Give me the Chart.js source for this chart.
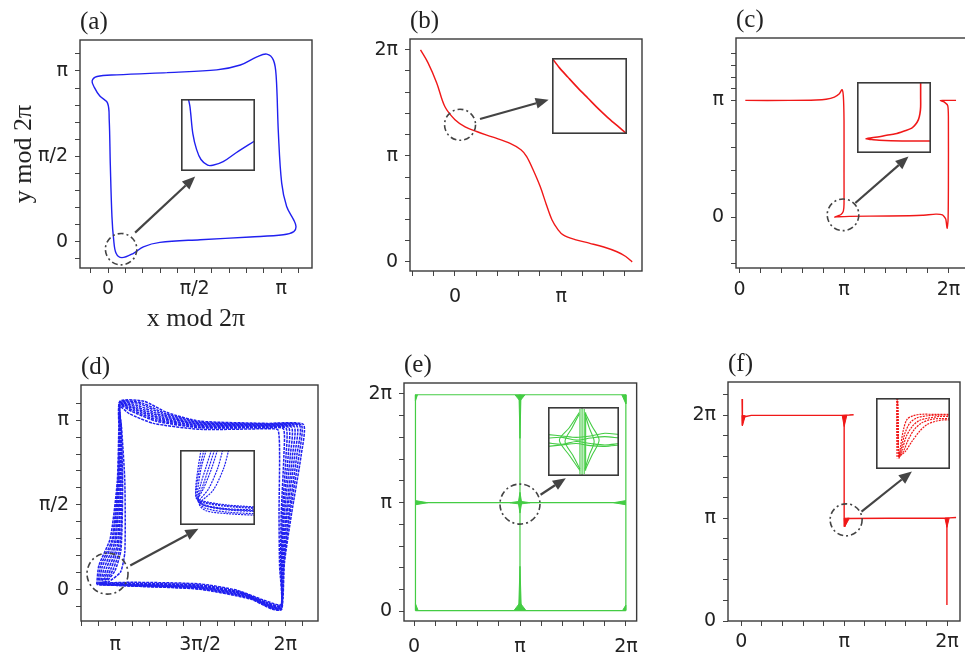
<!DOCTYPE html>
<html>
<head>
<meta charset="utf-8">
<script src="https://cdn.jsdelivr.net/npm/chart.js@4.4.0/dist/chart.umd.min.js"></script>
<style>
html, body { margin: 0; padding: 0; background: #fff; overflow: hidden; width: 965px; height: 656px; }
#fig { position: relative; width: 965px; height: 656px; overflow: hidden; }
canvas { position: absolute; }
</style>
</head>
<body>
<div id="fig"></div>
<script>
var PI = Math.PI;

// ---- (a) single closed orbit ----
var aX = [1.07,1.97,2.40,2.70,2.88,3.00,3.05,3.09,3.15,3.24,3.37,3.41,3.37,3.18,2.58,1.67,0.94,0.64,0.46,0.25,0.145,0.10,0.07,0.04,0.02,-0.01,-0.15,-0.25,-0.29,-0.20,0.16,1.07];
var aY = [3.11,3.16,3.25,3.40,3.45,3.34,3.04,2.00,1.08,0.65,0.40,0.28,0.19,0.13,0.09,0.04,-0.01,-0.09,-0.21,-0.29,-0.21,0.05,0.46,1.42,2.25,2.55,2.68,2.84,2.96,3.04,3.07,3.11];
var aInsX = [0.10,0.12,0.13,0.16,0.21,0.27,0.36,0.43,0.57,0.74,1.0];
var aInsY = [1.0,0.90,0.81,0.52,0.30,0.16,0.08,0.08,0.13,0.25,0.42];

// ---- (b) ----
var bX = [-1.02,-0.80,-0.54,-0.30,0.0,0.30,0.64,1.10,1.63,1.95,2.12,2.30,2.52,2.70,2.87,3.05,3.21,3.55,3.99,4.40,4.79,5.05,5.24];
var bY = [6.28,5.90,5.30,4.60,4.21,4.00,3.86,3.70,3.51,3.32,3.12,2.75,2.23,1.70,1.24,0.95,0.79,0.66,0.55,0.44,0.30,0.16,0.0];
var bInsX = [0,0.1,0.21,0.35,0.48,0.62,0.74,0.87,1];
var bInsY = [1,0.87,0.75,0.6,0.47,0.33,0.22,0.11,0];

// ---- (c) ----
var cX = [0.17,1.5,2.3,2.6,2.85,3.0,3.08,3.12,3.14,3.14,3.14,3.12,3.05,2.95,2.86,2.98,3.3,4.5,5.5,5.9,6.1,6.2,6.24,6.27,6.28,6.28,6.26,6.15,6.04,6.2,6.51];
var cY = [3.14,3.14,3.15,3.17,3.23,3.32,3.43,3.25,2.6,1.2,0.35,0.16,0.07,0.03,0.0,0.01,0.02,0.03,0.05,0.08,0.06,-0.05,-0.30,-0.08,0.8,2.7,3.0,3.10,3.14,3.14,3.14];
var cInsX = [0.86,0.86,0.86,0.85,0.83,0.79,0.74,0.64,0.52,0.40,0.30,0.20,0.12,0.20,0.30,0.61,1.0];
var cInsY = [1.0,0.8,0.65,0.55,0.47,0.40,0.35,0.31,0.27,0.25,0.23,0.215,0.20,0.19,0.18,0.17,0.17];

// ---- (d) band of loops ----
var dLoopsX = [
  [2.80,2.84,3.05,3.18,3.21,3.23,3.67,4.10,4.71,5.95,6.62,6.58,6.40,6.27,6.22,6.05,5.64,4.71,3.48,2.80],
  [2.82,2.87,3.08,3.19,3.22,3.23,3.63,4.07,4.71,5.95,6.58,6.54,6.37,6.26,6.21,6.03,5.62,4.71,3.48,2.82],
  [2.84,2.90,3.10,3.20,3.22,3.23,3.60,4.05,4.71,5.95,6.55,6.50,6.35,6.25,6.21,6.02,5.60,4.71,3.48,2.84],
  [2.86,2.94,3.13,3.21,3.23,3.23,3.57,4.02,4.71,5.95,6.50,6.46,6.32,6.24,6.21,6.01,5.57,4.71,3.48,2.86],
  [2.88,2.98,3.15,3.22,3.23,3.23,3.55,4.00,4.71,5.95,6.45,6.42,6.30,6.23,6.21,6.00,5.55,4.71,3.48,2.88],
  [2.90,3.02,3.18,3.24,3.24,3.23,3.52,3.97,4.71,5.95,6.40,6.38,6.27,6.22,6.21,5.99,5.52,4.71,3.48,2.90],
  [2.92,3.06,3.20,3.25,3.24,3.23,3.50,3.95,4.71,5.95,6.35,6.34,6.25,6.22,6.21,5.98,5.50,4.71,3.48,2.92],
  [2.94,3.10,3.23,3.27,3.25,3.23,3.47,3.92,4.71,5.95,6.30,6.30,6.23,6.21,6.21,5.97,5.47,4.71,3.48,2.94],
  [2.96,3.14,3.25,3.28,3.25,3.23,3.45,3.90,4.71,5.95,6.25,6.26,6.21,6.20,6.21,5.96,5.45,4.71,3.48,2.96],
  [3.00,3.24,3.32,3.32,3.26,3.23,3.40,3.85,4.71,5.95,6.15,6.18,6.17,6.18,6.21,5.94,5.40,4.71,3.48,3.00]
];
var dLoopsY = [
  [0.10,0.45,0.95,2.00,3.00,3.49,3.49,3.28,3.12,3.08,3.06,2.50,1.40,0.50,-0.36,-0.36,-0.17,0.01,0.07,0.10],
  [0.10,0.44,0.92,2.00,3.00,3.48,3.46,3.26,3.10,3.07,3.05,2.50,1.40,0.49,-0.36,-0.34,-0.15,0.02,0.07,0.10],
  [0.10,0.42,0.90,2.00,3.00,3.47,3.44,3.24,3.09,3.06,3.04,2.50,1.40,0.48,-0.35,-0.33,-0.14,0.03,0.08,0.10],
  [0.10,0.41,0.88,2.00,3.00,3.46,3.41,3.22,3.07,3.05,3.03,2.50,1.40,0.48,-0.34,-0.31,-0.12,0.04,0.08,0.10],
  [0.10,0.40,0.85,2.00,3.00,3.45,3.38,3.20,3.06,3.04,3.02,2.50,1.40,0.47,-0.33,-0.30,-0.10,0.05,0.09,0.10],
  [0.11,0.39,0.83,2.00,3.00,3.44,3.36,3.18,3.04,3.03,3.01,2.50,1.40,0.47,-0.32,-0.28,-0.08,0.06,0.10,0.11],
  [0.11,0.38,0.80,2.00,3.00,3.43,3.34,3.16,3.03,3.02,3.00,2.50,1.40,0.46,-0.31,-0.27,-0.07,0.07,0.10,0.11],
  [0.12,0.37,0.78,2.00,3.00,3.42,3.32,3.14,3.01,3.01,2.99,2.50,1.40,0.46,-0.30,-0.25,-0.05,0.08,0.11,0.12],
  [0.12,0.36,0.75,2.00,3.00,3.41,3.30,3.12,3.00,3.00,2.98,2.50,1.40,0.45,-0.29,-0.24,-0.04,0.09,0.12,0.12],
  [0.13,0.33,0.70,2.00,3.00,3.39,3.26,3.08,2.97,2.98,2.96,2.50,1.40,0.44,-0.27,-0.21,-0.01,0.11,0.14,0.13]
];
var dInsX = [
  [0.28,0.24,0.21,0.22,0.30,0.60,1.0],
  [0.32,0.26,0.22,0.22,0.30,0.60,1.0],
  [0.35,0.28,0.24,0.23,0.30,0.60,1.0],
  [0.42,0.34,0.27,0.24,0.32,0.60,1.0],
  [0.46,0.38,0.30,0.24,0.33,0.62,1.0],
  [0.50,0.42,0.32,0.24,0.35,0.65,1.0],
  [0.57,0.50,0.38,0.25,0.35,0.65,1.0],
  [0.65,0.58,0.44,0.26,0.35,0.65,1.0]
];
var dInsY = [
  [1.0,0.75,0.50,0.36,0.32,0.27,0.24],
  [1.0,0.75,0.50,0.35,0.31,0.26,0.23],
  [1.0,0.75,0.50,0.35,0.30,0.25,0.22],
  [1.0,0.75,0.52,0.34,0.27,0.22,0.20],
  [1.0,0.75,0.51,0.33,0.26,0.21,0.19],
  [1.0,0.75,0.50,0.32,0.25,0.20,0.18],
  [1.0,0.75,0.48,0.30,0.22,0.17,0.15],
  [1.0,0.75,0.46,0.28,0.19,0.15,0.13]
];

// ---- (e) grid of lines + spindles ----
var eLinesX = [[0.04,6.28],[0.04,6.28],[0.04,6.28],[0.04,0.04],[3.14,3.14],[6.28,6.28]];
var eLinesY = [[0.02,0.02],[3.14,3.14],[6.26,6.26],[0.02,6.26],[0.02,6.26],[0.02,6.26]];
var eSpindX = [
  [3.14,3.19,3.14,3.09,3.14], [2.84,3.14,3.44,3.14,2.84],
  [0.04,0.40,0.04], [6.28,5.92,6.28],
  [2.99,3.14,3.29], [2.96,3.14,3.32],
  [3.11,3.14,3.17], [3.10,3.14,3.18],
  [0.04,0.04,0.12], [0.04,0.04,0.10], [6.28,6.28,6.16], [6.28,6.28,6.18]
];
var eSpindY = [
  [3.44,3.14,2.84,3.14,3.44], [3.14,3.18,3.14,3.10,3.14],
  [3.20,3.14,3.08], [3.20,3.14,3.08],
  [6.26,6.08,6.26], [0.02,0.25,0.02],
  [6.26,5.00,6.26], [0.02,1.30,0.02],
  [0.02,0.22,0.02], [6.26,6.08,6.26], [6.26,6.00,6.26], [0.02,0.18,0.02]
];
var eInsX = [
  [0.45,0.45],[0.48,0.48],[0.51,0.51],[0.53,0.53],
  [0.44,0.30,0.16,0.30,0.45],[0.44,0.34,0.24,0.35,0.45],
  [0.52,0.62,0.72,0.62,0.52],[0.52,0.58,0.65,0.58,0.52],
  [0,0.2,0.4,0.6,0.8,1],[0,0.2,0.4,0.6,0.8,1],[0,0.2,0.4,0.6,0.8,1],[0,0.2,0.4,0.6,0.8,1]
];
var eInsY = [
  [0.97,0.02],[1.0,0.0],[0.97,0.03],[0.92,0.08],
  [0.92,0.70,0.52,0.30,0.08],[0.90,0.70,0.50,0.30,0.10],
  [0.92,0.72,0.52,0.30,0.08],[0.90,0.70,0.50,0.30,0.10],
  [0.55,0.56,0.52,0.55,0.57,0.55],[0.48,0.46,0.50,0.47,0.45,0.47],
  [0.60,0.58,0.56,0.58,0.62,0.60],[0.43,0.45,0.47,0.44,0.43,0.45]
];

// ---- (f) staircase ----
var fPathsX = [
  [0.02,0.02,0.04,0.10,0.30,1.5,3.10,3.30,3.43],
  [3.14,3.14,3.14,3.14,3.17,3.25,4.5,6.2,6.35,6.56],
  [6.28,6.28,6.28]
];
var fPathsY = [
  [6.78,5.98,6.10,6.24,6.28,6.28,6.28,6.29,6.30],
  [6.28,5.90,4.50,2.88,3.06,3.13,3.14,3.14,3.15,3.16],
  [3.14,2.00,0.49]
];
var fWedgeX = [[0.02,0.03,0.12,0.02],[3.08,3.14,3.22,3.08],[3.14,3.16,3.30,3.14],[6.22,6.28,6.35,6.22]];
var fWedgeY = [[6.28,5.96,6.27,6.28],[6.28,5.94,6.28,6.28],[3.14,2.88,3.14,3.14],[3.14,2.86,3.14,3.14]];
var fInsX = [
  [0.28,0.28,0.285],
  [0.29,0.30,0.31,0.33,0.37,0.42,0.50,0.60,0.80,1.0],
  [0.29,0.30,0.31,0.34,0.39,0.46,0.55,0.70,0.85,1.0],
  [0.29,0.30,0.31,0.35,0.41,0.49,0.58,0.72,0.86,1.0],
  [0.29,0.30,0.32,0.37,0.44,0.52,0.62,0.75,0.88,1.0],
  [0.29,0.30,0.32,0.39,0.48,0.58,0.68,0.80,0.90,1.0]
];
var fInsY = [
  [1.0,0.60,0.15],
  [1.0,0.40,0.15,0.30,0.55,0.70,0.75,0.77,0.77,0.77],
  [1.0,0.40,0.16,0.28,0.50,0.65,0.72,0.75,0.76,0.76],
  [1.0,0.40,0.17,0.26,0.46,0.60,0.68,0.72,0.74,0.74],
  [1.0,0.40,0.18,0.25,0.42,0.56,0.65,0.70,0.71,0.71],
  [1.0,0.40,0.20,0.24,0.38,0.52,0.62,0.67,0.69,0.69]
];

// tick labels (positions in units of pi)
var xMajA = [[0,'0'],[0.5,'π/2'],[1,'π']];
var yMajA = [[0,'0'],[0.5,'π/2'],[1,'π']];
var xMajB = [[0,'0'],[1,'π']];
var yMajB = [[0,'0'],[1,'π'],[2,'2π']];
var xMajC = [[0,'0'],[1,'π'],[2,'2π']];
var yMajC = [[0,'0'],[1,'π']];
var xMajD = [[1,'π'],[1.5,'3π/2'],[2,'2π']];
var yMajD = [[0,'0'],[0.5,'π/2'],[1,'π']];
var xMajE = [[0,'0'],[1,'π'],[2,'2π']];
var yMajE = [[0,'0'],[1,'π'],[2,'2π']];

var BLUE = '#2020f0', RED = '#f01818', GREEN = '#44cc44', INK = '#3a3a3a';
var fig = document.getElementById('fig');

function pts(xs, ys) { return xs.map(function (x, i) { return { x: x, y: ys[i] }; }); }
function line(xs, ys, color, w, t) {
  return { data: pts(xs, ys), borderColor: color, borderWidth: w || 1.3, pointRadius: 0, tension: t === undefined ? 0.3 : t, fill: false };
}
function shape(xs, ys, color) {
  return { data: pts(xs, ys), borderColor: color, backgroundColor: color, borderWidth: 1, pointRadius: 0, tension: 0, fill: 'shape' };
}
function piTicks(from, to, step) {
  var t = [];
  for (var k = Math.round(from / step); k * step <= to + 1e-9; k++) t.push(k * step * PI);
  return t;
}
function addCanvas(l, t, w, h) {
  var c = document.createElement('canvas');
  c.width = w; c.height = h;
  c.style.left = l + 'px'; c.style.top = t + 'px';
  c.style.width = w + 'px'; c.style.height = h + 'px';
  fig.appendChild(c);
  return c;
}

var marksPlugin = {
  id: 'marks',
  afterDraw: function (chart, args, o) {
    var ctx = chart.ctx, a = chart.chartArea;
    ctx.save();
    ctx.strokeStyle = INK; ctx.lineWidth = 1.4;
    ctx.strokeRect(a.left, a.top, a.right - a.left, a.bottom - a.top);
    ctx.fillStyle = '#222';
    ctx.font = '25px "Liberation Serif"';
    ctx.fillText(o.label, a.left, a.top - 11);
    var sx = chart.scales.x, sy = chart.scales.y;
    var cx = sx.getPixelForValue(o.ring[0]), cy = sy.getPixelForValue(o.ring[1]);
    ctx.strokeStyle = '#444'; ctx.lineWidth = 1.6;
    ctx.setLineDash([6, 3, 2, 3]);
    ctx.beginPath(); ctx.arc(cx, cy, o.ring[2], 0, 2 * PI); ctx.stroke();
    ctx.setLineDash([]);
    var x1 = sx.getPixelForValue(o.arrow[0]), y1 = sy.getPixelForValue(o.arrow[1]);
    var x2 = sx.getPixelForValue(o.arrow[2]), y2 = sy.getPixelForValue(o.arrow[3]);
    var ang = Math.atan2(y2 - y1, x2 - x1), hl = 13, hw = 5.5;
    var bx = x2 - hl * Math.cos(ang), by = y2 - hl * Math.sin(ang);
    ctx.lineWidth = 2.2;
    ctx.beginPath(); ctx.moveTo(x1, y1); ctx.lineTo(bx, by); ctx.stroke();
    ctx.fillStyle = '#444';
    ctx.beginPath();
    ctx.moveTo(x2, y2);
    ctx.lineTo(bx - hw * Math.sin(ang), by + hw * Math.cos(ang));
    ctx.lineTo(bx + hw * Math.sin(ang), by - hw * Math.cos(ang));
    ctx.closePath(); ctx.fill();
    ctx.restore();
  }
};

var insetPlugin = {
  id: 'insetBox',
  beforeDraw: function (chart) {
    var ctx = chart.ctx;
    ctx.save(); ctx.fillStyle = '#fff'; ctx.fillRect(0, 0, chart.width, chart.height); ctx.restore();
  },
  afterDraw: function (chart) {
    var ctx = chart.ctx;
    ctx.save(); ctx.strokeStyle = INK; ctx.lineWidth = 1.6;
    ctx.strokeRect(0.8, 0.8, chart.width - 1.6, chart.height - 1.6); ctx.restore();
  }
};

function axis(min, max, ticks, majors, fitSize, isX, pad, title) {
  var o = {
    type: 'linear', min: min, max: max,
    afterBuildTicks: function (s) { s.ticks = ticks.map(function (v) { return { value: v }; }); },
    afterFit: function (s) { if (isX) s.height = fitSize; else s.width = fitSize; },
    grid: { drawOnChartArea: false, drawTicks: true, tickLength: 5, color: '#444', lineWidth: 1 },
    border: { display: false },
    ticks: {
      autoSkip: false, maxRotation: 0, minRotation: 0, padding: pad, color: '#222',
      font: { family: 'DejaVu Sans', size: 19 },
      callback: function (v) {
        for (var i = 0; i < majors.length; i++) if (Math.abs(v - majors[i][0] * PI) < 1e-6) return majors[i][1];
        return '';
      }
    }
  };
  if (title) o.title = title;
  return o;
}

function panel(p) {
  var padL = p.padL || 75, padT = 40, padR = 6, padB = p.padB || 45;
  var c = addCanvas(p.box[0] - padL, p.box[1] - padT, p.box[2] + padL + padR, p.box[3] + padT + padB);
  return new Chart(c, {
    type: 'line',
    data: { datasets: p.datasets },
    options: {
      responsive: false, animation: false, devicePixelRatio: 1,
      layout: { padding: { top: padT, right: padR, left: 0, bottom: 0 } },
      plugins: { legend: { display: false }, tooltip: { enabled: false }, marks: { label: p.label, ring: p.ring, arrow: p.arrow } },
      scales: {
        x: axis(p.xr[0], p.xr[1], p.xt, p.xm, padB, true, p.xpad, p.xtitle),
        y: axis(p.yr[0], p.yr[1], p.yt, p.ym, padL, false, 7, p.ytitle)
      }
    },
    plugins: [marksPlugin]
  });
}

function inset(box, datasets) {
  var c = addCanvas(box[0], box[1], box[2], box[3]);
  return new Chart(c, {
    type: 'line',
    data: { datasets: datasets },
    options: {
      responsive: false, animation: false, devicePixelRatio: 1,
      layout: { padding: 0 },
      plugins: { legend: { display: false }, tooltip: { enabled: false } },
      scales: { x: { type: 'linear', display: false, min: 0, max: 1 }, y: { type: 'linear', display: false, min: 0, max: 1 } }
    },
    plugins: [insetPlugin]
  });
}

var titleFont = { family: 'Liberation Serif', size: 26 };

// (a)
panel({
  box: [80, 40, 232, 228], padL: 80, padB: 66, label: '(a)',
  xr: [-0.51, 3.70], yr: [-0.48, 3.71],
  xt: piTicks(-0.1, 1.1, 0.1), yt: piTicks(-0.1, 1.1, 0.1), xm: xMajA, ym: yMajA, xpad: 5,
  xtitle: { display: true, text: 'x mod 2π', color: '#222', font: titleFont, padding: { top: 0, bottom: -1 } },
  ytitle: { display: true, text: 'y mod 2π', color: '#222', font: titleFont, padding: { top: 9, bottom: 0 } },
  ring: [0.236, -0.134, 15.7], arrow: [0.49, 0.17, 1.58, 1.20],
  datasets: [line(aX, aY, BLUE, 1.4, 0.35)]
});
inset([181, 99, 74, 72], [line(aInsX, aInsY, BLUE, 1.4, 0.35)]);

// (b)
panel({
  box: [410, 39, 232, 232], label: '(b)',
  xr: [-1.33, 5.53], yr: [-0.27, 6.60],
  xt: piTicks(-0.4, 1.6, 0.2), yt: piTicks(0, 2, 0.2), xm: xMajB, ym: yMajB, xpad: 10,
  ring: [0.15, 4.06, 15.5], arrow: [0.74, 4.23, 2.77, 4.80],
  datasets: [line(bX, bY, RED, 1.4, 0.35)]
});
inset([552, 58, 75, 76], [line(bInsX, bInsY, RED, 1.6, 0.3)]);

// (c)
panel({
  box: [736, 38, 232, 230], label: '(c)',
  xr: [-0.11, 6.87], yr: [-1.37, 4.82],
  xt: piTicks(0, 2, 0.2), yt: [-0.4, -0.2, 0, 0.2, 0.4, 0.6, 0.8, 1.0, 1.1, 1.2, 1.3, 1.4].map(function (k) { return k * PI; }),
  xm: xMajC, ym: yMajC, xpad: 6,
  ring: [3.11, 0.06, 15.8], arrow: [3.48, 0.38, 5.08, 1.63],
  datasets: [line(cX, cY, RED, 1.4, 0.2)]
});
inset([857, 82, 74, 71], [line(cInsX, cInsY, RED, 1.6, 0.3)]);

// (d)
var dSets = dLoopsX.map(function (xs, i) {
  var s = line(xs, dLoopsY[i], BLUE, 1.5, 0.2);
  s.borderDash = [3, 1];
  return s;
});
panel({
  box: [81, 385, 237, 236], label: '(d)',
  xr: [2.51, 6.89], yr: [-0.576, 3.79],
  xt: piTicks(0.8, 2.1, 0.1), yt: piTicks(-0.1, 1.1, 0.1), xm: xMajD, ym: yMajD, xpad: 8,
  ring: [3.0, 0.30, 20.5], arrow: [3.42, 0.45, 4.68, 1.13],
  datasets: dSets
});
inset([180, 450, 75, 75], dInsX.map(function (xs, i) {
  var s = line(xs, dInsY[i], BLUE, 1.2, 0.3);
  s.borderDash = [2, 1];
  return s;
}));

// (e)
var eSets = eLinesX.map(function (xs, i) { return line(xs, eLinesY[i], GREEN, 1.2, 0); })
  .concat(eSpindX.map(function (xs, i) { return shape(xs, eSpindY[i], GREEN); }));
panel({
  box: [404, 383, 238, 238], label: '(e)',
  xr: [-0.30, 6.60], yr: [-0.28, 6.60],
  xt: piTicks(0, 2, 0.2), yt: piTicks(0, 2, 0.2), xm: xMajE, ym: yMajE, xpad: 10,
  ring: [3.14, 3.10, 20], arrow: [3.75, 3.37, 4.50, 3.85],
  datasets: eSets
});
inset([548, 407, 71, 69], eInsX.map(function (xs, i) { return line(xs, eInsY[i], GREEN, 1.1, 0.3); }));

// (f)
var fSets = fPathsX.map(function (xs, i) { return line(xs, fPathsY[i], RED, 1.4, 0); })
  .concat(fWedgeX.map(function (xs, i) { return shape(xs, fWedgeY[i], RED); }));
panel({
  box: [728, 382, 232, 239], label: '(f)',
  xr: [-0.41, 6.68], yr: [0, 7.30],
  xt: piTicks(0, 2, 0.2), yt: piTicks(0, 2.2, 0.2), xm: xMajE, ym: yMajE, xpad: 5,
  ring: [3.20, 3.09, 16], arrow: [3.67, 3.34, 5.21, 4.57],
  datasets: fSets
});
inset([876, 398, 74, 71], fInsX.map(function (xs, i) {
  var s = line(xs, fInsY[i], RED, 1.2, 0.3);
  s.borderDash = [2, 1];
  return s;
}));
</script>
</body>
</html>
